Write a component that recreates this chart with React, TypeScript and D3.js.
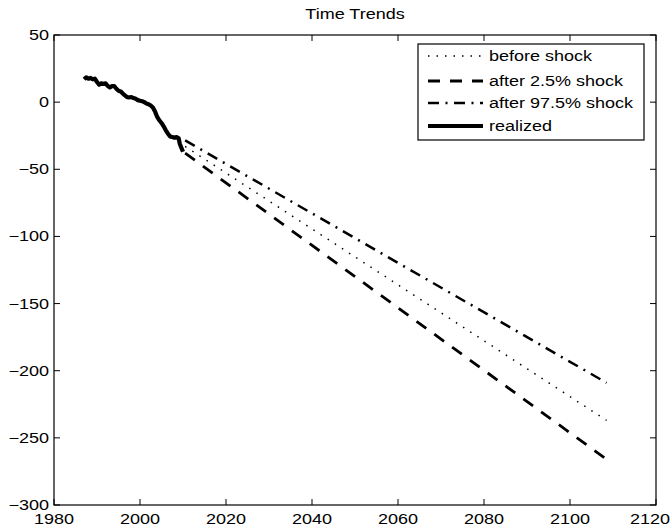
import React from "react";
import * as d3 from "d3";

const xTicks = [1980, 2000, 2020, 2040, 2060, 2080, 2100, 2120];
const yTicks = [50, 0, -50, -100, -150, -200, -250, -300];

const realizedYears = [
  1987, 1987.5, 1988, 1988.5, 1989, 1989.5, 1990, 1990.5, 1991, 1991.5, 1992, 1992.5,
  1993, 1993.5, 1994, 1994.5, 1995, 1995.5, 1996, 1996.5, 1997, 1997.5, 1998, 1998.5,
  1999, 1999.5, 2000, 2000.5, 2001, 2001.5, 2002, 2002.5, 2003, 2003.5, 2004, 2004.5,
  2005, 2005.5, 2006, 2006.5, 2007, 2007.5, 2008, 2008.5, 2009, 2009.25, 2009.5, 2010,
];
const realizedValues = [
  17, 18.5, 17.5, 18, 17, 17.5, 15, 13, 14, 13.5, 14, 12,
  11, 12, 12, 10, 8.5, 8, 6.5, 5, 3.7, 3.5, 3.8, 3, 2.5,
  1.5, 1, 0.7, 0, -1, -1.5, -2.5, -4, -7, -11, -13.5, -15.5,
  -18, -21, -23.5, -25.5, -26, -26.5, -26, -27, -31, -33, -37,
];

const projYears = [2010.5, 2108.5];
const beforeShock = [-33, -237];
const after25 = [-38, -266];
const after975 = [-28.5, -209];

const legendLabels = ["before shock", "after 2.5% shock", "after 97.5% shock", "realized"];

const W = 672;
const H = 532;
const L = 54, R = 656, T = 35, B = 505;
const SX = 1.26;
const FONT = "'Liberation Sans', Arial, Helvetica, sans-serif";

const styles = [
  { w: 1.5, dash: "1.5,7" },
  { w: 2.8, dash: "12,10" },
  { w: 2.5, dash: "11,6.5,2,6.5" },
  { w: 4.2, dash: "" },
];

function Txt({ x, y, anchor, size = 14.3, children }: any) {
  return (
    <text
      transform={`translate(${x},${y}) scale(${SX},1)`}
      textAnchor={anchor}
      fontFamily={FONT}
      fontSize={size}
      fill="#000"
    >
      {children}
    </text>
  );
}

export default function App() {
  const x = d3.scaleLinear().domain([1980, 2120]).range([L, R]);
  const y = d3.scaleLinear().domain([-300, 50]).range([B, T]);
  const line = d3
    .line<[number, number]>()
    .x((d) => x(d[0]))
    .y((d) => y(d[1]));

  const realized: [number, number][] = realizedYears.map((yr, i) => [yr, realizedValues[i]]);
  const proj = [beforeShock, after25, after975].map(
    (vals) => projYears.map((yr, i) => [yr, vals[i]] as [number, number])
  );

  const legRows = [56, 81, 103, 126];

  return (
    <svg
      width={W}
      height={H}
      style={{ position: "absolute", left: 0, top: 0, background: "#fff" }}
    >
      <rect x={0} y={0} width={W} height={H} fill="#fff" />
      <Txt x={(L + R) / 2} y={19} anchor="middle">Time Trends</Txt>

      {proj.map((p, i) => (
        <path
          key={i}
          d={line(p) || ""}
          fill="none"
          stroke="#000"
          strokeWidth={styles[i].w}
          strokeDasharray={styles[i].dash}
        />
      ))}
      <path
        d={line(realized) || ""}
        fill="none"
        stroke="#000"
        strokeWidth={styles[3].w}
        strokeLinejoin="round"
      />

      <rect x={L} y={T} width={R - L} height={B - T} fill="none" stroke="#000" strokeWidth={1.2} />
      {xTicks.map((t, i) => {
        const last = i === xTicks.length - 1;
        return (
          <g key={"x" + t}>
            <line x1={x(t)} x2={x(t)} y1={B} y2={B - 6} stroke="#000" />
            <line x1={x(t)} x2={x(t)} y1={T} y2={T + 6} stroke="#000" />
            {last ? (
              <Txt x={670} y={524} anchor="end">{String(t)}</Txt>
            ) : (
              <Txt x={x(t)} y={524} anchor="middle">{String(t)}</Txt>
            )}
          </g>
        );
      })}
      {yTicks.map((t) => (
        <g key={"y" + t}>
          <line x1={L} x2={L + 6} y1={y(t)} y2={y(t)} stroke="#000" />
          <line x1={R} x2={R - 6} y1={y(t)} y2={y(t)} stroke="#000" />
          <Txt x={49} y={y(t) + 5} anchor="end">{String(t).replace("-", "\u2212")}</Txt>
        </g>
      ))}

      <rect x={418} y={44} width={226} height={96} fill="#fff" stroke="#000" strokeWidth={1.2} />
      {legendLabels.map((lab, i) => (
        <g key={lab}>
          <line
            x1={428}
            x2={483}
            y1={legRows[i]}
            y2={legRows[i]}
            stroke="#000"
            strokeWidth={styles[i].w}
            strokeDasharray={styles[i].dash}
          />
          <Txt x={489} y={legRows[i] + 5} anchor="start">{lab}</Txt>
        </g>
      ))}
    </svg>
  );
}
